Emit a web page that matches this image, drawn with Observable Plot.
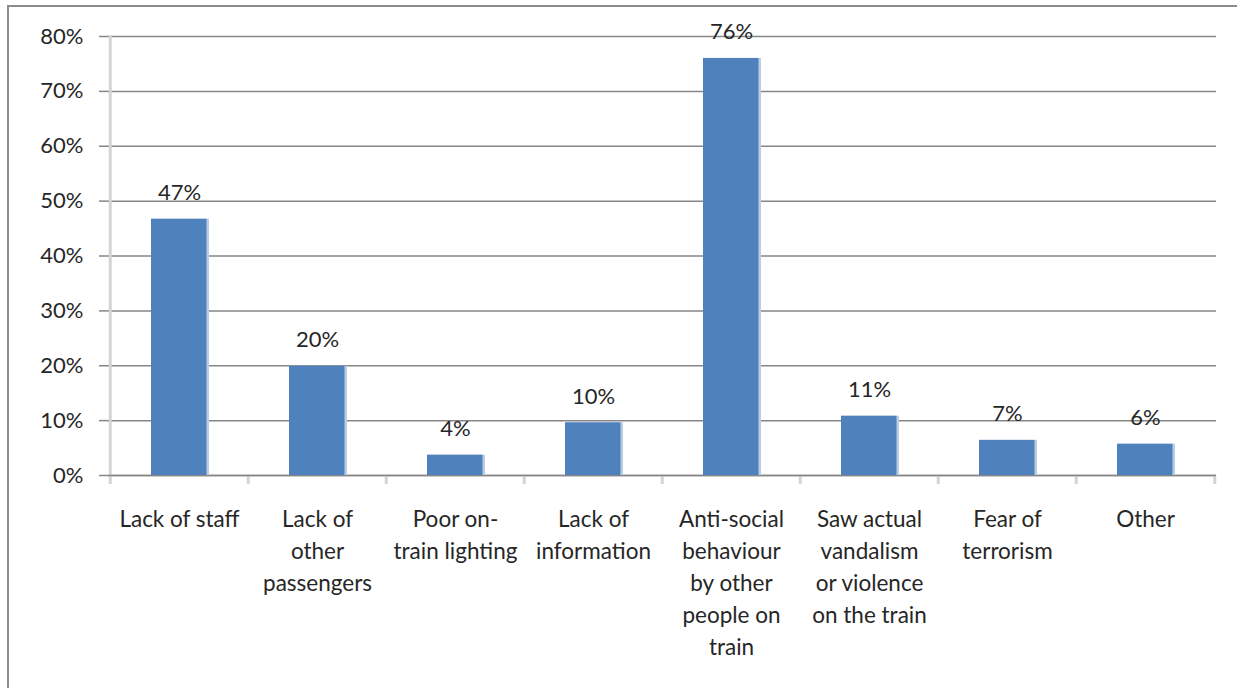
<!DOCTYPE html>
<html>
<head>
<meta charset="utf-8">
<script src="https://cdn.jsdelivr.net/npm/d3@7"></script>
<script src="https://cdn.jsdelivr.net/npm/@observablehq/plot@0.6"></script>
<style>
  html, body { margin: 0; padding: 0; background: #fff; }
  #wrap { position: relative; width: 1237px; height: 688px; overflow: hidden; }
  #border { position: absolute; left: 7px; top: 5px; right: -10px; bottom: -10px;
            border-left: 2px solid #8c8c8c; border-top: 2px solid #8c8c8c; pointer-events: none; }
  #chart { position: absolute; left: 0; top: 0; }
</style>
</head>
<body>
<div id="wrap"><div id="chart"></div><div id="border"></div></div>
<script>
const categories = [
  "Lack of staff",
  "Lack of other passengers",
  "Poor on-train lighting",
  "Lack of information",
  "Anti-social behaviour by other people on train",
  "Saw actual vandalism or violence on the train",
  "Fear of terrorism",
  "Other"
];
const tickLabels = [
  "Lack of staff",
  "Lack of\nother\npassengers",
  "Poor on-\ntrain lighting",
  "Lack of\ninformation",
  "Anti-social\nbehaviour\nby other\npeople on\ntrain",
  "Saw actual\nvandalism\nor violence\non the train",
  "Fear of\nterrorism",
  "Other"
];
const values = [46.7, 19.9, 3.7, 9.6, 76.0, 10.8, 6.4, 5.7];
const valueLabels = ["47%", "20%", "4%", "10%", "76%", "11%", "7%", "6%"];
const yTicks = [0, 10, 20, 30, 40, 50, 60, 70, 80];

const data = categories.map((c, i) => ({category: c, value: values[i], label: valueLabels[i]}));
const labelOf = new Map(categories.map((c, i) => [c, tickLabels[i]]));

const W = 1237, H = 688, mL = 108, mR = 21, mT = 36, mB = 213;
const half = (W - mL - mR) / categories.length / 2;
const font = "Lato, 'Open Sans', sans-serif";

const chart = Plot.plot({
  width: W, height: H,
  marginLeft: mL, marginRight: mR, marginTop: mT, marginBottom: mB,
  style: {fontFamily: font, background: "#fff", color: "#262626"},
  x: {type: "band", domain: categories, padding: 0},
  y: {domain: [0, 80]},
  marks: [
    Plot.gridY(yTicks, {stroke: "#868686", strokeOpacity: 1, strokeWidth: 1.5}),
    Plot.axisY({ticks: yTicks, tickFormat: d => d + "%", tickSize: 9, tickPadding: 16,
                stroke: "#868686", strokeWidth: 1.5, fontSize: 22, fill: "#262626", label: null}),
    Plot.ruleX([categories[0]], {x: d => d, dx: -half, y1: 80, y2: 0, insetBottom: -9,
                stroke: "#d4d4d4", strokeWidth: 3}),
    Plot.ruleX(categories.slice(1), {x: d => d, dx: -half, y1: 0, y2: 0, insetBottom: -9,
                stroke: "#d4d4d4", strokeWidth: 3}),
    Plot.ruleX([categories[categories.length - 1]], {x: d => d, dx: half, y1: 0, y2: 0, insetBottom: -9,
                stroke: "#d4d4d4", strokeWidth: 3}),
    Plot.ruleY([0], {stroke: "#868686", strokeWidth: 1.5}),
    Plot.barY(data, {x: "category", y: "value", fill: "#b9cde5", insetLeft: 41, insetRight: 39}),
    Plot.barY(data, {x: "category", y: "value", fill: "#4f81bd", insetLeft: 41, insetRight: 41.5}),
    Plot.text(data, {x: "category", y: "value", text: "label", dy: -26, fontSize: 22,
                     fill: "#262626", textAnchor: "middle"}),
    Plot.axisX({tickSize: 0, tickPadding: 29, tickFormat: d => labelOf.get(d), fontSize: 22.5,
                lineHeight: 1.42, lineAnchor: "top", fill: "#262626", label: null})
  ]
});
document.getElementById("chart").appendChild(chart);
</script>
</body>
</html>
